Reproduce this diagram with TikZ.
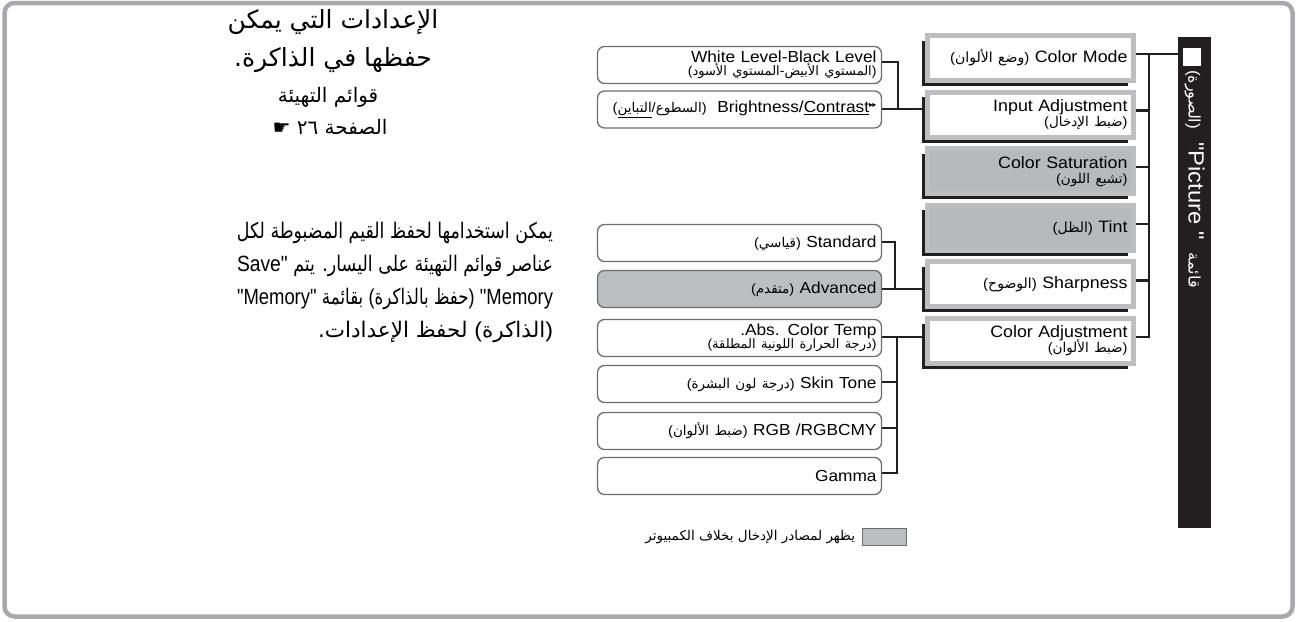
\documentclass[tikz,border=0pt]{standalone}
\usepackage{fontspec}
\usepackage{graphicx}
\setmainfont{Liberation Sans}[FakeStretch=1.08]
\newfontfamily\lat{Liberation Sans}[FakeStretch=1.08]
\newfontfamily\arabicfont[Script=Arabic]{DejaVu Sans}
\newfontfamily\symfont{DejaVu Sans}
\TeXXeTstate=1
\usetikzlibrary{calc}
\definecolor{ink}{HTML}{231F20}
\definecolor{framegray}{HTML}{A7A9AC}
\definecolor{rgray}{HTML}{BCBEC0}
\definecolor{rfill}{HTML}{B7B9BB}
\definecolor{lgray}{HTML}{6D6E71}
\newcommand\fs[2]{\fontsize{#1pt}{#2pt}\selectfont}
\newcommand\rtl[1]{\beginR #1\endR}
\newcommand\brk{\kern0pt\relax}
\newcommand\lp{{\lat(}}
\newcommand\rp{{\lat)}}
\newcommand\dq{{\lat\char"22}}
\newcommand\latin{\lat\fs{22}{24}}
\newsavebox\linebox
\newcommand\jline[1]{\sbox\linebox{#1}%
  \ifdim\wd\linebox>316pt \resizebox{316pt}{\height}{\usebox\linebox}%
  \else\hbox to 316pt{#1}\fi}
\tikzset{
  rbox/.style={draw=rgray, line width=5pt, fill=white, minimum width=206pt, minimum height=45pt,
    text width=194pt, align=right, inner xsep=6pt, inner ysep=0pt, outer sep=0pt, font=\fs{16.5}{17}},
  rboxg/.style={rbox, fill=rfill},
  lbox/.style={draw=lgray, line width=1.3pt, rounded corners=7pt, fill=white, minimum width=284pt,
    minimum height=37pt, text width=274pt, align=right, inner xsep=5pt, inner ysep=0pt, outer sep=0pt,
    font=\fs{16}{16.5}},
  lboxg/.style={lbox, fill=rgray},
  conn/.style={draw=ink, line width=2.4pt},
  trunk/.style={conn, line cap=rect},
  shad/.style={draw=ink, line width=3pt},
  plain/.style={inner sep=0pt, outer sep=0pt},
  para/.style={plain, anchor=east, font=\arabicfont\fs{21.5}{24}},
}
\newcommand\arp[2]{{\arabicfont\fs{#1}{#1}#2}}
\begin{document}
\begin{tikzpicture}[x=1pt,y=-1pt]
\path[use as bounding box] (0,0) rectangle (1300,621);
\draw[framegray, line width=4.5pt, rounded corners=10pt] (4.5,3) rectangle (1292.5,616.5);

% title
\node[plain, font=\arabicfont\fs{25}{27}] (t1) at (333,22) {\rtl{الإعدادات التي يمكن}};
\node[plain, font=\arabicfont\fs{25}{27}] (t2) at (333,60) {\rtl{حفظها في الذاكرة\brk.}};
\node[plain, font=\arabicfont\fs{20}{22}] (t3) at (328,97) {\rtl{قوائم التهيئة}};
\node[plain, font=\arabicfont\fs{20}{22}] (t4) at (330,127) {{\symfont ☛}\ \rtl{الصفحة ٢٦}};

% paragraph
\node[para] (p1) at (553,233) {\jline{\rtl{يمكن استخدامها لحفظ القيم المضبوطة لكل}}};
\node[para] (p2) at (553,266) {\jline{{\latin Save\dq}\ \rtl{عناصر قوائم التهيئة على اليسار\brk. يتم}}};
\node[para] (p3) at (553,299) {\jline{{\latin\dq Memory\dq}\ بقائمة\ \lp\rtl{حفظ بالذاكرة}\rp\ {\latin\dq Memory}}};
\node[para] (p4) at (553,332) {\rtl{\rp الذاكرة\lp\ لحفظ الإعدادات\brk.}};

% right column
\node[rbox] (cm) at (1030.5,58) {\arp{14}{\lp\rtl{وضع الألوان}\rp} Color Mode};
\node[rbox] (ia) at (1030.5,114.6) {Input Adjustment\\[-2pt]\arp{13.5}{\lp\rtl{ضبط الإدخال}\rp}};
\node[rboxg] (cs) at (1030.5,171.2) {Color Saturation\\[-2pt]\arp{13.5}{\lp\rtl{تشبع اللون}\rp}};
\node[rboxg] (ti) at (1030.5,227.8) {\arp{14}{\lp الظل\rp} Tint};
\node[rbox] (sh) at (1030.5,284.4) {\arp{14}{\lp الوضوح\rp} Sharpness};
\node[rbox] (ca) at (1030.5,341) {Color Adjustment\\[-2pt]\arp{13.5}{\lp\rtl{ضبط الألوان}\rp}};
\foreach \n in {cm,ia,cs,ti,sh,ca}{
  \draw[shad] ($(\n.north west)+(-4,5)$) -- ($(\n.south west)+(-4,4)$) -- ($(\n.south east)+(-6,4)$);
  \coordinate (\n E) at ($(\n.east)+(2.5,-4)$);
  \coordinate (\n S) at ($(\n.west)+(-4,0)$);
}

% black bar
\node[plain, fill=ink, minimum width=33pt, minimum height=491pt, anchor=north west] (bar) at (1178,37) {};
\node[plain, fill=white, minimum size=18pt] (sq) at (1191.5,57) {};
\node[plain, text=white, rotate=-90, anchor=west, font=\fs{22}{23}] (bt) at (1194.5,70)
  {\arp{16}{\lp الصورة\rp}\ \ \dq Picture\ \dq\ \ \arp{16}{قائمة}};

\coordinate (T) at (1149,0);
\draw[trunk] (cmE -| T) -- (caE -| T);
\draw[conn] (cmE) -- (cmE -| bar.west);
\foreach \n in {ia,cs,ti,sh,ca}{ \draw[conn] (\n E) -- (\n E -| T); }

% left column
\node[lbox] (wl) at (739.5,65) {White Level-Black Level\\[-3pt]\arp{13}{\lp\rtl{المستوي الأبيض\brk-\brk المستوي الأسود}\rp}};
\node[lbox] (bc) at (739.5,109.5) {\arp{13.5}{\lp\underline{التباين}{\lat/}السطوع\rp}\ \ Brightness/\underline{Contrast}\raisebox{0.6ex}{\symfont\fs{8}{8}▸\kern-0.6pt▸}};
\node[lbox] (st) at (739.5,243) {\arp{13.5}{\lp قياسي\rp} Standard};
\node[lboxg] (ad) at (739.5,289) {\arp{13.5}{\lp متقدم\rp} Advanced};
\node[lbox] (ab) at (739.5,338) {.Abs. Color Temp\\[-3pt]\arp{13}{\lp\rtl{درجة الحرارة اللونية المطلقة}\rp}};
\node[lbox] (sk) at (739.5,384) {\arp{13.5}{\lp\rtl{درجة لون البشرة}\rp} Skin Tone};
\node[lbox] (rg) at (739.5,431) {\arp{13.5}{\lp\rtl{ضبط الألوان}\rp} RGB /RGBCMY};
\node[lbox] (ga) at (739.5,476) {Gamma};

\coordinate (wlE) at ($(wl.east)+(0,-3)$);
\coordinate (bcE) at ($(bc.east)+(0,-0.5)$);
\coordinate (stE) at ($(st.east)+(0,-1)$);
\coordinate (adE) at ($(ad.east)+(0,0)$);
\coordinate (abE) at ($(ab.east)+(0,-1)$);
\coordinate (skE) at ($(sk.east)+(0,-2)$);
\coordinate (rgE) at ($(rg.east)+(0,-3)$);
\coordinate (gaE) at ($(ga.east)+(0,-3)$);
\coordinate (V1) at (898,0);
\coordinate (V2) at (895,0);
\coordinate (V3) at (897,0);
\draw[conn] (wlE) -- (wlE -| V1);
\draw[trunk] (wlE -| V1) -- (bcE -| V1);
\draw[conn] (bcE) -- (bcE -| iaS);
\draw[conn] (stE) -- (stE -| V2);
\draw[trunk] (stE -| V2) -- (adE -| V2);
\draw[conn] (adE) -- (adE -| shS);
\draw[trunk] (abE -| V3) -- (gaE -| V3);
\draw[conn] (abE) -- (abE -| caS);
\foreach \n in {sk,rg,ga}{ \draw[conn] (\n E) -- (\n E -| V3); }

% legend
\node[plain, draw=lgray, fill=rgray, line width=1pt, minimum width=44pt, minimum height=17pt] (lg) at (884.5,537) {};
\node[plain, anchor=east, font=\arabicfont\fs{13.5}{15}] (lt) at (855,537) {\rtl{يظهر لمصادر الإدخال بخلاف الكمبيوتر}};
\end{tikzpicture}
\end{document}
